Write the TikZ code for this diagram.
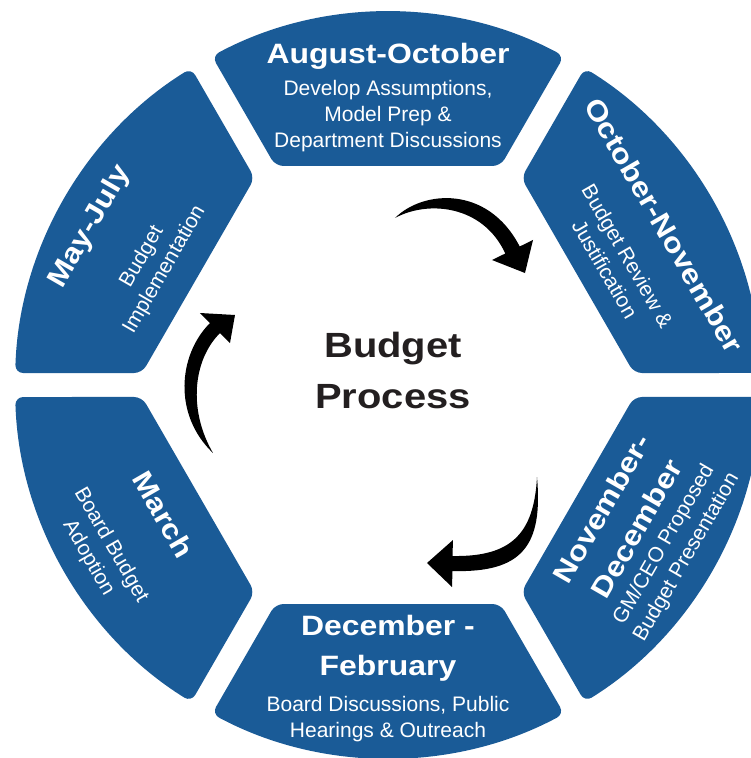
\documentclass[tikz,border=0pt]{standalone}
\usepackage{fontspec}
\setmainfont{Liberation Sans}
\newfontfamily\headfont[FakeStretch=1.14]{Liberation Sans}
\usetikzlibrary{calc}
\definecolor{budgetblue}{HTML}{1A5B97}
\definecolor{budgetink}{HTML}{231F20}

\begin{document}
\begin{tikzpicture}[x=1pt,y=1pt,
seg/.style={fill=budgetblue,rounded corners=8pt},
phase/.style={text=white,align=center,inner sep=0pt,
font=\headfont\bfseries\fontsize{28}{40}\selectfont},
task/.style={text=white,align=center,inner sep=0pt,
font=\fontsize{21}{26}\selectfont},
hub/.style={text=budgetink,align=center,inner sep=0pt,
font=\headfont\bfseries\fontsize{35}{51}\selectfont},
swoosh/.style={fill=black}
]
\useasboundingbox (-388,-373) rectangle (363,385);

\foreach \a in {30,90,...,330}
  \fill[seg,rotate=\a-90] (-112.6,219) -- (112.6,219) -- (176,328.86)
    arc[start angle=61.84,end angle=118.16,radius=373] -- cycle;

\node[phase] (augoct) at (90:329) {August-October};
\node[task] (augocttask) at (90:268.5) {Develop Assumptions,\\Model Prep \&\\Department Discussions};
\node[phase,rotate=-60] (octnov) at (30:319) {October-November};
\node[task,rotate=-60] (octnovtask) at ($(30:259)+(-60:8)$) {Budget Review \&\\Justification};
\node[phase,rotate=60] (novdec) at (-30:267) {November-\\December};
\node[task,rotate=60] (novdectask) at (-30:332) {GM/CEO Proposed\\Budget Presentation};
\node[phase] (decfeb) at (-90:263) {December -\\February};
\node[task] (decfebtask) at (-90:334) {Board Discussions, Public\\Hearings \& Outreach};
\node[phase,rotate=-60] (march) at (210:259) {March};
\node[task,rotate=-60] (marchtask) at (210:333) {Board Budget\\Adoption};
\node[phase,rotate=60] (mayjul) at ($(150:337)+(60:-12)$) {May-July};
\node[task,rotate=60] (mayjultask) at ($(150:264)+(60:-12)$) {Budget\\Implementation};

\node[hub] (hub) at (5,15) {Budget\\Process};

\coordinate (tailA) at (7,167);
\coordinate (tipA) at (137,112);
\fill[swoosh] (tailA) .. controls (35,195) and (100,200) .. (131.7,138.5)
  -- (145,145) -- (tipA) -- (104,125) -- (117.3,131.5)
  .. controls (95,180) and (40,185) .. (tailA) -- cycle;

\coordinate (tailB) at (149,-92);
\coordinate (tipB) at (39,-178);
\fill[swoosh] (tailB) .. controls (155,-160) and (135,-188) .. (64.5,-186)
  -- (64,-202) -- (tipB) -- (65,-155) -- (64.5,-171)
  .. controls (122,-172) and (146,-150) .. (tailB) -- cycle;

\coordinate (tailC) at (-175,-68);
\coordinate (tipC) at (-153,70);
\fill[swoosh] (tailC) .. controls (-215,-30) and (-210,30) .. (-178,62)
  -- (-188,72) -- (tipC) -- (-158,42) -- (-168,52)
  .. controls (-195,25) and (-200,-25) .. (tailC) -- cycle;
\end{tikzpicture}
\end{document}
